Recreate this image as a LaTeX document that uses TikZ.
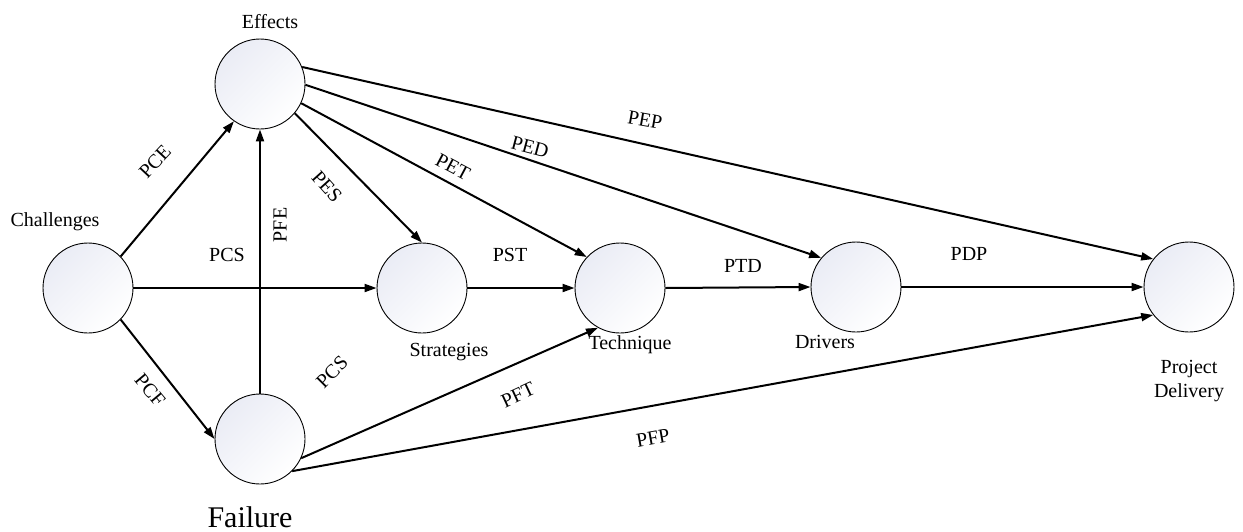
\documentclass[tikz,border=0pt]{standalone}
\usepackage{fontspec}
\setmainfont{Liberation Serif}
\usetikzlibrary{arrows.meta}
\definecolor{discTop}{RGB}{234,236,245}
\tikzset{
  disc/.style={circle, draw=black, line width=0.9pt, minimum size=90pt, inner sep=0pt,
               top color=discTop, bottom color=white, shading angle=45},
  link/.style={line width=2pt, -{Triangle[length=12pt,width=8pt]}},
  tag/.style={font=\fontsize{20}{24}\selectfont, inner sep=0pt, align=center},
  bigtag/.style={font=\fontsize{30}{36}\selectfont, inner sep=0pt}
}
\begin{document}
\begin{tikzpicture}[x=1pt, y=-1pt]
  \fill[white] (0,0) rectangle (1243,531);
  \useasboundingbox (0,0) rectangle (1243,531);

  % stages
  \node[disc] (C) at (88,288) {};
  \node[disc] (E) at (260,84) {};
  \node[disc] (F) at (260,439) {};
  \node[disc] (S) at (422,288) {};
  \node[disc] (T) at (620,288) {};
  \node[disc] (D) at (856,287) {};
  \node[disc] (P) at (1189,287) {};

  % stage names
  \node[tag] (nC) at (55,222) {Challenges};
  \node[tag] (nE) at (270,22) {Effects};
  \node[bigtag] (nF) at (250,517) {Failure};
  \node[tag] (nS) at (449,352) {Strategies};
  \node[tag] (nT) at (630,345) {Technique};
  \node[tag] (nD) at (825,342) {Drivers};
  \node[tag] (nP) at (1189,381) {Project\\Delivery};

  % paths
  \draw[link] (C.44) -- (E.235);
  \draw[link] (C.east) -- (S.west);
  \draw[link] (C.-44) -- (F.180);
  \draw[link] (F.north) -- (E.south);
  \draw[link] (E.-40) -- (S.north);
  \draw[link] (E.-25) -- (T.137);
  \draw[link] (E.-1) -- (D.140);
  \draw[link] (E.22) -- (P.142);
  \draw[link] (S.east) -- (T.west);
  \draw[link] (T.east) -- (D.west);
  \draw[link] (D.east) -- (P.west);
  \draw[link] (F.-25) -- (T.241);
  \draw[link] (F.-45) -- (P.218);

  % path coefficients
  \node[tag, rotate=47] (lPCE) at (155,162) {PCE};
  \node[tag, rotate=90] (lPFE) at (280,225) {PFE};
  \node[tag] (lPCSa) at (227,255) {PCS};
  \node[tag, rotate=-48] (lPES) at (327,187) {PES};
  \node[tag, rotate=-50] (lPCF) at (150,390) {PCF};
  \node[tag, rotate=45] (lPCSb) at (332,372) {PCS};
  \node[tag, rotate=-28] (lPET) at (453,167) {PET};
  \node[tag, rotate=-15] (lPED) at (530,147) {PED};
  \node[tag, rotate=-10] (lPEP) at (645,120) {PEP};
  \node[tag] (lPST) at (510,255) {PST};
  \node[tag] (lPTD) at (743,266) {PTD};
  \node[tag, rotate=25] (lPFT) at (518,395) {PFT};
  \node[tag, rotate=10] (lPFP) at (653,438) {PFP};
  \node[tag] (lPDP) at (969,254) {PDP};
\end{tikzpicture}
\end{document}
